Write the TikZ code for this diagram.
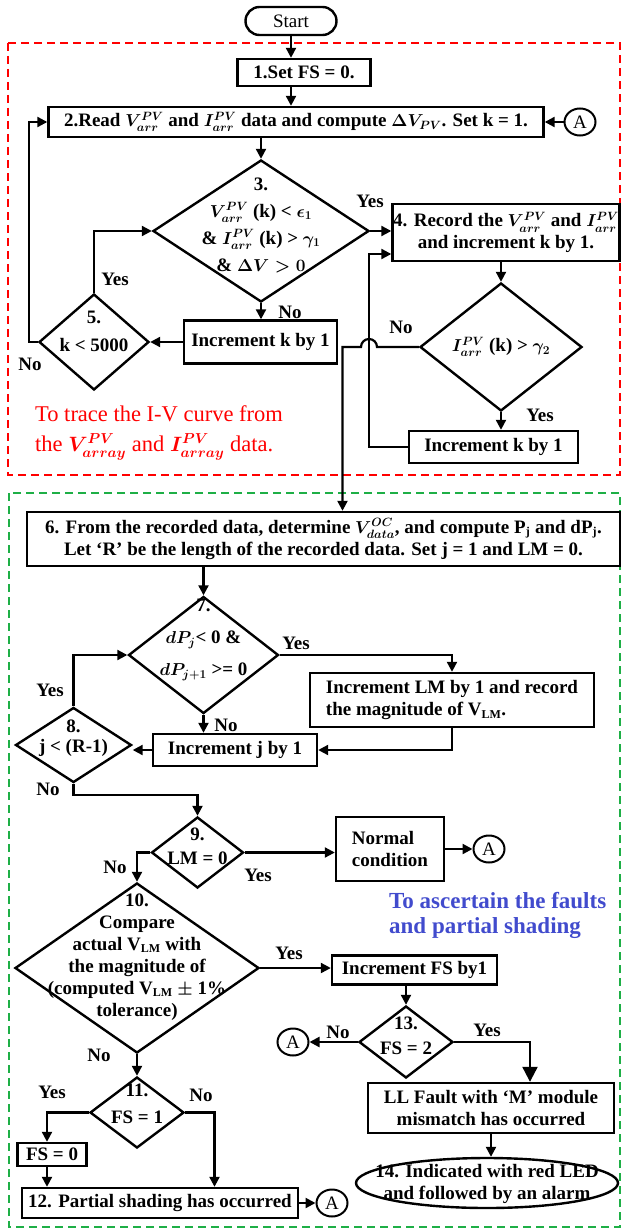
\documentclass[tikz,border=0pt]{standalone}
\usepackage{fontspec}
\setmainfont{Liberation Serif}
\usetikzlibrary{shapes.geometric,arrows.meta}

\DeclareMathSizes{19}{19}{12}{9}
\DeclareMathSizes{22.5}{22.5}{14.5}{10}

\definecolor{zonegreen}{RGB}{30,175,70}
\definecolor{noteblue}{RGB}{65,75,205}

\begin{document}
\begin{tikzpicture}[x=1pt, y=-1pt,
    font=\fontsize{19}{22}\selectfont\bfseries\boldmath,
    box/.style={rectangle, draw, line width=2.4pt, inner sep=2pt, align=center},
    dec/.style={diamond, draw, line width=2.4pt, inner sep=0pt},
    dtxt/.style={align=center, inner sep=0pt, font=\fontsize{19}{#1}\selectfont\bfseries\boldmath},
    conn/.style={ellipse, draw, line width=2pt, minimum width=31pt, minimum height=27pt, inner sep=0pt, font=\fontsize{19}{22}\selectfont\mdseries},
    lbl/.style={inner sep=0pt},
    arrow/.style={-{Triangle[length=10pt,width=10pt]}, line width=2.2pt},
    bigarrow/.style={-{Triangle[length=15pt,width=15pt]}, line width=2.2pt},
    zone/.style={dash pattern=on 8pt off 5pt, line width=2.5pt}
]
\useasboundingbox (0,0) rectangle (623,1228);

% the two zones
\draw[zone, red] (8,43) rectangle (620,475);
\draw[zone, zonegreen] (9,493) rectangle (620,1227);

% I-V curve tracing
\node[box, rounded corners=14pt, minimum width=91pt, minimum height=28pt, font=\fontsize{19}{22}\selectfont\mdseries] (start) at (291,21) {Start};
\node[box, minimum width=133pt, minimum height=27pt] (set) at (304,72.5) {1.Set FS = 0.};
\node[box, minimum width=495pt, minimum height=30pt] (read) at (296,122) {2.Read $V_{arr}^{PV}$ and $I_{arr}^{PV}$ data and compute $\Delta V_{PV}$. Set k = 1.};
\node[conn] (a1) at (580,122) {A};
\node[dec, minimum width=216pt, minimum height=142pt] (chk3) at (261,231) {};
\node[dtxt=27] (chk3t) at (261,225) {3.\\$V_{arr}^{PV}$ (k) < $\epsilon_1$\\\& $I_{arr}^{PV}$ (k) > $\gamma_1$\\\& $\Delta V > 0$};
\node[box, inner sep=0pt, minimum width=227pt, minimum height=57pt] (rec) at (506,232.5) {4. Record the $V_{arr}^{PV}$ and $I_{arr}^{PV}$\\and increment k by 1.};
\node[box, minimum width=153pt, minimum height=43pt] (inck1) at (260.5,342) {Increment k by 1};
\node[dec, minimum width=110pt, minimum height=96pt] (chk5) at (94,342) {};
\node[dtxt=28] (chk5t) at (94,331) {5.\\k < 5000};
\node[dec, minimum width=162pt, minimum height=128pt] (chk6) at (501,347) {};
\node[dtxt=22] (chk6t) at (501,347) {$I_{arr}^{PV}$ (k) > $\gamma_2$};
\node[box, minimum width=169pt, minimum height=32pt] (inck2) at (493.5,447) {Increment k by 1};
\node[lbl, anchor=west, align=left, text=red, font=\fontsize{22.5}{30}\selectfont\mdseries\boldmath] (note1) at (35,433) {To trace the I-V curve from\\the $V_{array}^{PV}$ and $I_{array}^{PV}$ data.};

\node[lbl] (y3) at (370,201) {Yes};
\node[lbl] (n3) at (290,312) {No};
\node[lbl] (y5) at (115,279) {Yes};
\node[lbl] (n5) at (30,364) {No};
\node[lbl] (n6) at (401,327) {No};
\node[lbl] (y6) at (540,415) {Yes};

\draw[arrow] (start) -- (start |- set.north);
\draw[arrow] (set.south -| start) -- (read.north -| start);
\draw[arrow] (a1) -- (read.east);
\draw[arrow] (read.south -| chk3) -- (chk3.north);
\draw[arrow] (chk3.east) -- (chk3.east -| rec.west);
\draw[arrow] (chk3.south) -- (chk3.south |- inck1.north);
\draw[arrow] (inck1.west) -- (inck1.west -| chk5.east);
\draw[arrow] (chk5.north) |- (chk3.west);
\coordinate (back1) at (29,122);
\draw[arrow] (chk5.west) -| (back1) -- (read.west);
\draw[arrow] (rec.south -| chk6) -- (chk6.north);
\draw[arrow] (chk6.south) -- (chk6.south |- inck2.north);
\coordinate (back2) at (369,254);
\draw[arrow] (inck2.west) -| (back2) -- (back2 -| rec.west);

% fault and shading check
\node[box, inner sep=1pt, minimum width=593pt, minimum height=54pt] (find) at (323.5,539) {6. From the recorded data, determine $V_{data}^{OC}$, and compute P$_\mathrm{j}$ and dP$_\mathrm{j}$.\\Let ‘R’ be the length of the recorded data. Set j = 1 and LM = 0.};
\coordinate (hop) at (369,347);
\coordinate (drop) at (342.5,347);
\draw[arrow] (chk6.west) -- ([xshift=8pt]hop) arc[start angle=0, end angle=180, radius=8pt] -- (drop) -- (drop |- find.north);

\node[dec, minimum width=150pt, minimum height=117pt] (chk7) at (203.5,655) {};
\node[dtxt=32] (chk7t) at (203.5,640) {7.\\$dP_j$< 0 \&\\$dP_{j+1}$ >= 0};
\node[box, align=left, minimum width=284pt, minimum height=54pt] (inclm) at (452,700) {Increment LM by 1 and record\\the magnitude of V$_\mathrm{LM}$.};
\node[box, minimum width=164pt, minimum height=32pt] (incj) at (235,750) {Increment j by 1};
\node[dec, minimum width=116pt, minimum height=75pt] (chk8) at (73.5,745) {};
\node[dtxt=20] (chk8t) at (73.5,738.5) {8.\\j < (R-1)};
\node[dec, minimum width=92pt, minimum height=71pt] (chk9) at (197.5,852.5) {};
\node[dtxt=24] (chk9t) at (197.5,846) {9.\\LM = 0};
\node[box, align=left, minimum width=108pt, minimum height=64pt] (normal) at (390,849) {Normal\\condition};
\node[conn] (a2) at (489,849) {A};
\node[lbl, anchor=west, align=left, text=noteblue, font=\fontsize{23}{25}\selectfont\bfseries] (note2) at (389,915.5) {To ascertain the faults\\and partial shading};
\node[dec, minimum width=244pt, minimum height=170pt] (chk10) at (137,968) {};
\node[dtxt=22] (chk10t) at (137,957) {10.\\Compare\\actual V$_\mathrm{LM}$ with\\the magnitude of\\(computed V$_\mathrm{LM}$ $\pm$ 1\%\\tolerance)};
\node[box, minimum width=165pt, minimum height=29pt] (incfs) at (414.5,970) {Increment FS by1};
\node[dec, minimum width=94pt, minimum height=72pt] (chk13) at (406,1042) {};
\node[dtxt=25] (chk13t) at (406,1035.5) {13.\\FS = 2};
\node[conn] (a3) at (293,1042) {A};
\node[box, minimum width=246pt, minimum height=50pt] (llf) at (491,1108) {LL Fault with ‘M’ module\\mismatch has occurred};
\node[ellipse, draw, line width=2.4pt, minimum width=262pt, minimum height=50pt, inner sep=0pt] (alarm) at (487,1183) {};
\node[dtxt=22] (alarmt) at (487,1184) {14. Indicated with red LED\\and followed by an alarm};
\node[dec, minimum width=94pt, minimum height=71pt] (chk11) at (137,1112.5) {};
\node[dtxt=27] (chk11t) at (137,1103.5) {11.\\FS = 1};
\node[box, inner sep=0pt, minimum width=69pt, minimum height=23pt] (fs0) at (52,1154.5) {FS = 0};
\node[box, inner sep=1pt, minimum width=276pt, minimum height=30pt] (shade) at (160,1203) {12. Partial shading has occurred};
\node[conn] (a4) at (332,1203) {A};

\node[lbl] (y7) at (296,643) {Yes};
\node[lbl] (n7) at (226,725) {No};
\node[lbl] (y8) at (50,690) {Yes};
\node[lbl] (n8) at (48,789) {No};
\node[lbl] (n9) at (115,867) {No};
\node[lbl] (y9) at (258,875) {Yes};
\node[lbl] (y10) at (289,953) {Yes};
\node[lbl] (n10) at (99,1055) {No};
\node[lbl] (n13) at (338,1032) {No};
\node[lbl] (y13) at (487,1030) {Yes};
\node[lbl] (y11) at (52,1092) {Yes};
\node[lbl] (n11) at (201,1095) {No};

\draw[arrow] (find.south -| chk7) -- (chk7.north);
\draw[arrow] (chk7.east) -| (inclm.north);
\draw[arrow] (chk7.south) -- (chk7.south |- incj.north);
\draw[arrow] (inclm.south) |- (incj.east);
\draw[arrow] (incj.west) -- (incj.west -| chk8.east);
\draw[arrow] (chk8.north) |- (chk7.west);
\draw[arrow] (chk8.south) -- ++(0,11) -| (chk9.north);
\draw[arrow] (chk9.east) -- (chk9.east -| normal.west);
\draw[arrow] (normal.east) -- (a2.west);
\draw[arrow] (chk9.west) -| (chk10.north);
\draw[arrow] (chk10.east) -- (chk10.east -| incfs.west);
\draw[arrow] (incfs.south -| chk13) -- (chk13.north);
\draw[arrow] (chk13.west) -- (a3.east);
\draw[bigarrow] (chk13.east) -| ([xshift=39pt]llf.north);
\draw[arrow] (llf.south) -- (llf.south |- alarm.north);
\draw[arrow] (chk10.south) -- (chk11.north);
\coordinate (fsx) at ([xshift=-5pt]fs0.south);
\draw[arrow] (chk11.west) -| (fsx |- fs0.north);
\draw[arrow] (fsx) -- (fsx |- shade.north);
\draw[arrow] (chk11.east) -| ([xshift=54.5pt]shade.north);
\draw[arrow] (shade.east) -- (a4.west);
\end{tikzpicture}
\end{document}
